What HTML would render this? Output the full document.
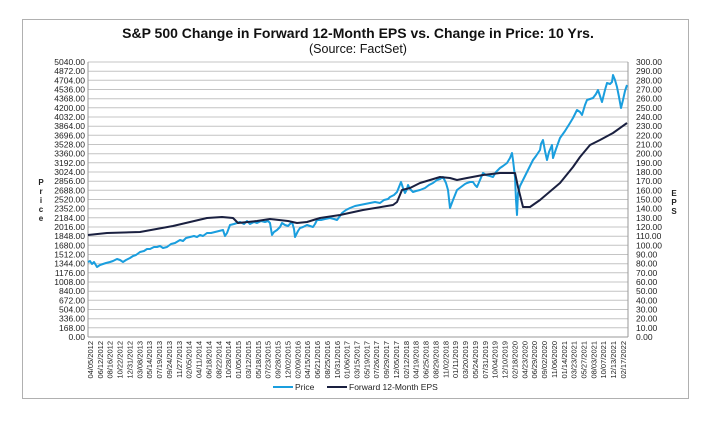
<!DOCTYPE html>
<html><head><meta charset="utf-8"><style>
body{margin:0;background:#fff;}
svg{display:block;font-family:"Liberation Sans",Arial,sans-serif;}
</style></head><body>
<svg width="706" height="421" viewBox="0 0 706 421" xmlns="http://www.w3.org/2000/svg">
<rect x="0" y="0" width="706" height="421" fill="#fff"/>
<rect x="22.5" y="19.5" width="666" height="379" fill="#fff" stroke="#b0b0b0" stroke-width="1"/>
<text x="358" y="38" text-anchor="middle" font-size="14" font-weight="bold" fill="#111">S&amp;P 500 Change in Forward 12-Month EPS vs. Change in Price: 10 Yrs.</text>
<text x="358" y="53" text-anchor="middle" font-size="12.5" fill="#111">(Source: FactSet)</text>
<g stroke="#c4c4c4" stroke-width="1">
<line x1="88" x2="628" y1="327.8" y2="327.8"/><line x1="88" x2="628" y1="318.7" y2="318.7"/><line x1="88" x2="628" y1="309.5" y2="309.5"/><line x1="88" x2="628" y1="300.3" y2="300.3"/><line x1="88" x2="628" y1="291.2" y2="291.2"/><line x1="88" x2="628" y1="282" y2="282"/><line x1="88" x2="628" y1="272.8" y2="272.8"/><line x1="88" x2="628" y1="263.7" y2="263.7"/><line x1="88" x2="628" y1="254.5" y2="254.5"/><line x1="88" x2="628" y1="245.3" y2="245.3"/><line x1="88" x2="628" y1="236.2" y2="236.2"/><line x1="88" x2="628" y1="227" y2="227"/><line x1="88" x2="628" y1="217.8" y2="217.8"/><line x1="88" x2="628" y1="208.7" y2="208.7"/><line x1="88" x2="628" y1="199.5" y2="199.5"/><line x1="88" x2="628" y1="190.3" y2="190.3"/><line x1="88" x2="628" y1="181.2" y2="181.2"/><line x1="88" x2="628" y1="172" y2="172"/><line x1="88" x2="628" y1="162.8" y2="162.8"/><line x1="88" x2="628" y1="153.7" y2="153.7"/><line x1="88" x2="628" y1="144.5" y2="144.5"/><line x1="88" x2="628" y1="135.3" y2="135.3"/><line x1="88" x2="628" y1="126.2" y2="126.2"/><line x1="88" x2="628" y1="117" y2="117"/><line x1="88" x2="628" y1="107.8" y2="107.8"/><line x1="88" x2="628" y1="98.7" y2="98.7"/><line x1="88" x2="628" y1="89.5" y2="89.5"/><line x1="88" x2="628" y1="80.3" y2="80.3"/><line x1="88" x2="628" y1="71.2" y2="71.2"/><line x1="88" x2="628" y1="62" y2="62"/>
</g>
<line x1="88" y1="62" x2="88" y2="337" stroke="#999"/>
<line x1="628" y1="62" x2="628" y2="337" stroke="#999"/>
<line x1="88" y1="337" x2="628" y2="337" stroke="#999"/>
<g font-size="8.5" fill="#222" text-anchor="end">
<text x="85" y="340">0.00</text><text x="85" y="330.8">168.00</text><text x="85" y="321.7">336.00</text><text x="85" y="312.5">504.00</text><text x="85" y="303.3">672.00</text><text x="85" y="294.2">840.00</text><text x="85" y="285">1008.00</text><text x="85" y="275.8">1176.00</text><text x="85" y="266.7">1344.00</text><text x="85" y="257.5">1512.00</text><text x="85" y="248.3">1680.00</text><text x="85" y="239.2">1848.00</text><text x="85" y="230">2016.00</text><text x="85" y="220.8">2184.00</text><text x="85" y="211.7">2352.00</text><text x="85" y="202.5">2520.00</text><text x="85" y="193.3">2688.00</text><text x="85" y="184.2">2856.00</text><text x="85" y="175">3024.00</text><text x="85" y="165.8">3192.00</text><text x="85" y="156.7">3360.00</text><text x="85" y="147.5">3528.00</text><text x="85" y="138.3">3696.00</text><text x="85" y="129.2">3864.00</text><text x="85" y="120">4032.00</text><text x="85" y="110.8">4200.00</text><text x="85" y="101.7">4368.00</text><text x="85" y="92.5">4536.00</text><text x="85" y="83.3">4704.00</text><text x="85" y="74.2">4872.00</text><text x="85" y="65">5040.00</text>
</g>
<g font-size="8.5" fill="#222">
<text x="636" y="340">0.00</text><text x="636" y="330.8">10.00</text><text x="636" y="321.7">20.00</text><text x="636" y="312.5">30.00</text><text x="636" y="303.3">40.00</text><text x="636" y="294.2">50.00</text><text x="636" y="285">60.00</text><text x="636" y="275.8">70.00</text><text x="636" y="266.7">80.00</text><text x="636" y="257.5">90.00</text><text x="636" y="248.3">100.00</text><text x="636" y="239.2">110.00</text><text x="636" y="230">120.00</text><text x="636" y="220.8">130.00</text><text x="636" y="211.7">140.00</text><text x="636" y="202.5">150.00</text><text x="636" y="193.3">160.00</text><text x="636" y="184.2">170.00</text><text x="636" y="175">180.00</text><text x="636" y="165.8">190.00</text><text x="636" y="156.7">200.00</text><text x="636" y="147.5">210.00</text><text x="636" y="138.3">220.00</text><text x="636" y="129.2">230.00</text><text x="636" y="120">240.00</text><text x="636" y="110.8">250.00</text><text x="636" y="101.7">260.00</text><text x="636" y="92.5">270.00</text><text x="636" y="83.3">280.00</text><text x="636" y="74.2">290.00</text><text x="636" y="65">300.00</text>
</g>
<g font-size="7.5" fill="#222" text-anchor="end" transform="rotate(-90)">
<text x="-341" y="93">04/05/2012</text><text x="-341" y="102.9">06/12/2012</text><text x="-341" y="112.7">08/16/2012</text><text x="-341" y="122.6">10/22/2012</text><text x="-341" y="132.5">12/31/2012</text><text x="-341" y="142.4">03/08/2013</text><text x="-341" y="152.2">05/14/2013</text><text x="-341" y="162.1">07/19/2013</text><text x="-341" y="172">09/24/2013</text><text x="-341" y="181.8">11/27/2013</text><text x="-341" y="191.7">02/05/2014</text><text x="-341" y="201.6">04/11/2014</text><text x="-341" y="211.4">06/18/2014</text><text x="-341" y="221.3">08/22/2014</text><text x="-341" y="231.2">10/28/2014</text><text x="-341" y="241.1">01/05/2015</text><text x="-341" y="250.9">03/12/2015</text><text x="-341" y="260.8">05/18/2015</text><text x="-341" y="270.7">07/23/2015</text><text x="-341" y="280.5">09/28/2015</text><text x="-341" y="290.4">12/02/2015</text><text x="-341" y="300.3">02/09/2016</text><text x="-341" y="310.1">04/15/2016</text><text x="-341" y="320">06/21/2016</text><text x="-341" y="329.9">08/25/2016</text><text x="-341" y="339.8">10/31/2016</text><text x="-341" y="349.6">01/06/2017</text><text x="-341" y="359.5">03/15/2017</text><text x="-341" y="369.4">05/19/2017</text><text x="-341" y="379.2">07/26/2017</text><text x="-341" y="389.1">09/29/2017</text><text x="-341" y="399">12/05/2017</text><text x="-341" y="408.8">02/12/2018</text><text x="-341" y="418.7">04/19/2018</text><text x="-341" y="428.6">06/25/2018</text><text x="-341" y="438.5">08/29/2018</text><text x="-341" y="448.3">11/02/2018</text><text x="-341" y="458.2">01/11/2019</text><text x="-341" y="468.1">03/20/2019</text><text x="-341" y="477.9">05/24/2019</text><text x="-341" y="487.8">07/31/2019</text><text x="-341" y="497.7">10/04/2019</text><text x="-341" y="507.5">12/10/2019</text><text x="-341" y="517.4">02/18/2020</text><text x="-341" y="527.3">04/23/2020</text><text x="-341" y="537.2">06/29/2020</text><text x="-341" y="547">09/02/2020</text><text x="-341" y="556.9">11/06/2020</text><text x="-341" y="566.8">01/14/2021</text><text x="-341" y="576.6">03/23/2021</text><text x="-341" y="586.5">05/27/2021</text><text x="-341" y="596.4">08/03/2021</text><text x="-341" y="606.2">10/07/2021</text><text x="-341" y="616.1">12/13/2021</text><text x="-341" y="626">02/17/2022</text>
</g>
<g font-size="8" font-weight="bold" fill="#222" text-anchor="middle">
<text x="41" y="185">P</text><text x="41" y="194">r</text><text x="41" y="203">i</text><text x="41" y="212">c</text><text x="41" y="221">e</text>
<text x="674" y="196">E</text><text x="674" y="205">P</text><text x="674" y="214">S</text>
</g>
<polyline fill="none" stroke="#1a9ede" stroke-width="2" stroke-linejoin="round" points="88,262 90,261 92,264 94,262 97,267 100,265 103,264 106,263 110,262 113,261 117,259 120,260 123,262 126,260 130,258 133,256 136,255 140,252 144,251 147,249 150,249 154,247 157,247 160,246 163,248 167,247 171,244 175,243 180,240 183,241 186,238 190,237 194,236 197,237 200,235 203,236 207,233 211,233 215,232 219,231 223,230 225,236 227,233 230,225 234,224 237,223 240,222 244,224 247,221 250,224 254,222 257,223 261,221 265,222 268,221 270,223 272,235 274,232 277,230 280,227 282,223 285,225 288,226 290,224 292,222 294,229 295,237 298,231 300,228 303,227 307,225 310,226 313,227 315,224 317,220 321,220 325,219 330,218 334,219 337,220 340,216 342,213 346,210 350,208 355,206 360,205 365,204 370,203 375,202 380,203 384,200 388,199 390,197 394,195 397,192 399,187 401,182 403,188 405,193 407,189 408,185 410,189 413,192 416,191 420,190 425,188 429,185 433,183 437,180 440,179 443,177 446,183 448,190 449,199 450,208 453,200 457,190 461,187 465,184 467,183 470,182 473,182 475,185 477,187 480,180 483,173 486,175 490,176 493,177 496,172 500,168 503,166 507,163 510,158 512,153 513,160 515,177 516,200 517,215 518,193 520,186 523,180 528,170 533,160 536,156 540,150 541,144 543,140 545,151 547,160 549,152 552,145 553,158 556,149 560,138 565,131 570,123 573,118 577,110 580,112 582,115 585,105 587,100 590,99 593,98 596,94 598,90 600,96 602,102 605,90 607,83 610,84 612,82 613,75 615,80 617,87 619,97 621,108 622,104 623,100 625,91 627,85"/>
<polyline fill="none" stroke="#1a2040" stroke-width="2" stroke-linejoin="round" points="88,235 107,233 140,232 173,226 207,218 222,217 233,218 238,223 257,221 270,219 288,221 297,223 307,222 320,218 340,215 363,210 393,205 397,202 402,190 410,188 420,183 440,177 450,178 457,180 467,178 483,175 500,173 515,173 518,187 523,207 530,207 540,200 560,183 573,167 580,157 590,145 600,140 613,133 627,123"/>
<line x1="273" y1="387" x2="293" y2="387" stroke="#1a9ede" stroke-width="2"/>
<text x="295" y="390" font-size="8.5" fill="#222">Price</text>
<line x1="327" y1="387" x2="347" y2="387" stroke="#1a2040" stroke-width="2"/>
<text x="349" y="390" font-size="8.5" fill="#222">Forward 12-Month EPS</text>
</svg>
</body></html>
